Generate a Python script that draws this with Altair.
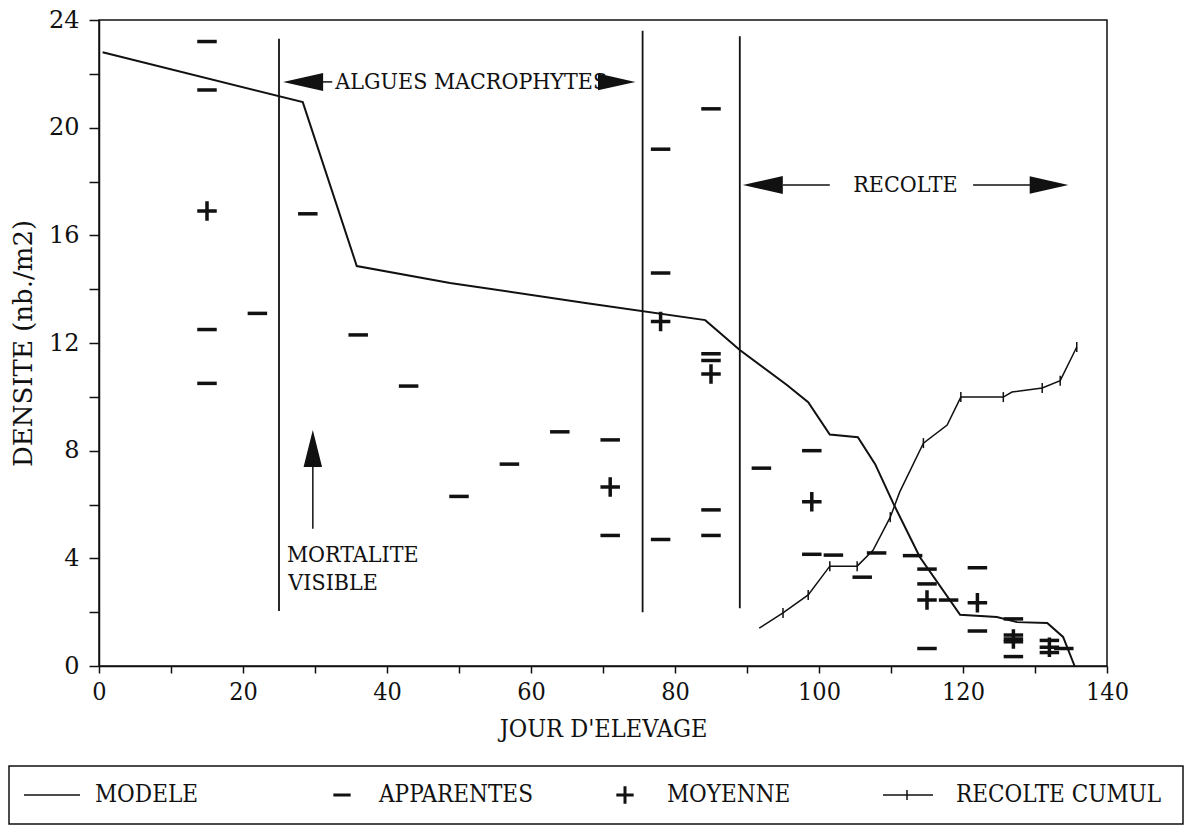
import altair as alt
import pandas as pd

# ---- model density curve (nb./m2 vs rearing day) ----
model_day = [0.5, 28.3, 35.8, 48.75, 67.8, 84.2, 89.0, 95.5, 98.5, 101.5, 105.4,
             107.8, 110.3, 114.0, 119.6, 124.7, 127.5, 131.7, 133.9, 135.5]
model_density = [22.8, 20.95, 14.86, 14.23, 13.48, 12.85, 11.74, 10.45, 9.8, 8.6, 8.5,
                 7.5, 6.05, 4.05, 1.9, 1.82, 1.63, 1.6, 1.08, 0.0]

# ---- apparent densities (individual counts) ----
app_day = [15, 15, 15, 15, 22, 29, 36, 43, 50, 57, 64, 71, 71,
           78, 78, 78, 85, 85, 85, 85, 85, 92, 99, 99, 102, 106, 108, 113,
           115, 115, 115, 118, 122, 122, 127, 127, 127, 127, 132, 132, 134]
app_density = [23.2, 21.4, 12.5, 10.5, 13.1, 16.8, 12.3, 10.4, 6.3, 7.5, 8.7, 8.4, 4.85,
               19.2, 14.6, 4.7, 20.7, 11.6, 11.35, 5.8, 4.85, 7.35, 8.0, 4.15, 4.12, 3.3, 4.2, 4.1,
               3.6, 3.05, 0.65, 2.45, 3.65, 1.3, 1.75, 1.15, 0.9, 0.35, 0.95, 0.5, 0.65]

# ---- mean density per sampling date ----
mean_day = [15, 71, 78, 85, 99, 115, 122, 127, 132]
mean_density = [16.9, 6.65, 12.8, 10.85, 6.1, 2.45, 2.35, 1.0, 0.7]

# ---- cumulated harvest ----
harvest_day = [91.7, 95.0, 98.5, 101.5, 105.3, 107.5, 109.9, 111.2, 114.5, 117.8,
               119.7, 125.6, 126.8, 131.0, 133.5, 135.8]
harvest_cum = [1.41, 1.97, 2.64, 3.71, 3.71, 4.3, 5.53, 6.46, 8.28, 8.95,
               9.99, 9.99, 10.18, 10.33, 10.6, 11.85]
harvest_marked = [False, True, True, True, True, False, True, False, True, False,
                  True, True, False, True, True, True]

# ---- period boundaries (data coordinates) ----
bound_day = [25.0, 75.5, 89.0]
bound_low = [2.04, 2.0, 2.15]
bound_high = [23.3, 23.6, 23.4]

NARROW = "DejaVu Serif Condensed, Liberation Serif, serif"
WIDE = "DejaVu Serif, serif"
INK = "#111111"

x_axis = alt.Axis(
    values=list(range(0, 141, 10)),
    labelExpr="datum.value % 20 == 0 ? datum.label : ''",
    title="JOUR D'ELEVAGE",
    titleFont=NARROW, titleFontSize=25, titleFontWeight="normal", titlePadding=12,
    labelFont=NARROW, labelFontSize=25, labelPadding=6, labelOverlap=False, labelFlush=False,
    tickSize=7, tickWidth=1.5, domainWidth=1.5, grid=False,
)
y_axis = alt.Axis(
    values=list(range(0, 25, 2)),
    labelExpr="datum.value % 4 == 0 ? datum.label : ''",
    title="DENSITE (nb./m2)",
    titleFont=WIDE, titleFontSize=26, titleFontWeight="normal", titlePadding=12,
    labelFont=WIDE, labelFontSize=24, labelPadding=10, labelOverlap=False, labelFlush=False,
    tickSize=10, tickWidth=1.5, domainWidth=1.5, grid=False,
)
XS = alt.Scale(domain=[0, 140], nice=False, zero=False)
YS = alt.Scale(domain=[0, 24], nice=False, zero=False)


def xq(field):
    return alt.X(field, type="quantitative", axis=x_axis, scale=XS)


def yq(field):
    return alt.Y(field, type="quantitative", axis=y_axis, scale=YS)


model_df = pd.DataFrame({"day": model_day, "density": model_density})
app_df = pd.DataFrame({"day": app_day, "density": app_density})
mean_df = pd.DataFrame({"day": mean_day, "density": mean_density})
harv_df = pd.DataFrame({"day": harvest_day, "density": harvest_cum, "marked": harvest_marked})
bound_df = pd.DataFrame({"day": bound_day, "low": bound_low, "high": bound_high})

DASH = "M-1,0L1,0"
PLUS = "M-1,0L1,0M0,-1L0,1"
VTICK = "M0,-1L0,1"
LEFT_HEAD = "M-1,0L1,-0.45L1,0.45Z"
RIGHT_HEAD = "M1,0L-1,-0.45L-1,0.45Z"
UP_HEAD = "M0,-1L0.5,1L-0.5,1Z"

model = alt.Chart(model_df).mark_line(color=INK, strokeWidth=2).encode(
    x=xq("day"), y=yq("density")
)

harvest_line = alt.Chart(harv_df).mark_line(color=INK, strokeWidth=1.5).encode(
    x=xq("day"), y=yq("density")
)
harvest_ticks = alt.Chart(harv_df).transform_filter("datum.marked").mark_point(
    shape=VTICK, size=100, stroke=INK, strokeWidth=1.5, filled=False, opacity=1
).encode(x=xq("day"), y=yq("density"))

apparent = alt.Chart(app_df).mark_point(
    shape=DASH, size=380, stroke=INK, strokeWidth=3.5, filled=False, opacity=1
).encode(x=xq("day"), y=yq("density"))

mean = alt.Chart(mean_df).mark_point(
    shape=PLUS, size=380, stroke=INK, strokeWidth=3.5, filled=False, opacity=1
).encode(x=xq("day"), y=yq("density"))

bounds = alt.Chart(bound_df).mark_rule(color=INK, strokeWidth=1.8).encode(
    x=xq("day"), y=yq("low"), y2="high"
)

# arrow shafts
shaft_df = pd.DataFrame({
    "x1": [95.0, 121.4, 29.7, 31.1],
    "x2": [101.5, 129.3, 29.7, 32.4],
    "y1": [17.87, 17.87, 5.1, 21.7],
    "y2": [17.87, 17.87, 7.4, 21.7],
})
shafts = alt.Chart(shaft_df).mark_rule(color=INK, strokeWidth=1.5).encode(
    x=xq("x1"), x2="x2", y=yq("y1"), y2="y2"
)

head_df = pd.DataFrame({
    "day": [28.35, 71.9, 92.2, 131.95, 29.7],
    "density": [21.7, 21.7, 17.87, 17.87, 8.08],
    "shape": [LEFT_HEAD, RIGHT_HEAD, LEFT_HEAD, RIGHT_HEAD, UP_HEAD],
    "size": [1600, 1400, 1600, 1500, 1369],
})
heads = alt.Chart(head_df).mark_point(filled=True, color=INK, opacity=1).encode(
    x=xq("day"), y=yq("density"),
    shape=alt.Shape("shape:N", scale=None),
    size=alt.Size("size:Q", scale=None),
)

label_df = pd.DataFrame({
    "day": [51.7, 112.0],
    "density": [21.7, 17.87],
    "text": ["ALGUES MACROPHYTES", "RECOLTE"],
})
labels = alt.Chart(label_df).mark_text(
    font=NARROW, fontSize=23, color=INK, align="center", baseline="middle"
).encode(x=xq("day"), y=yq("density"), text="text:N")

note_df = pd.DataFrame({
    "day": [26.1, 26.3],
    "density": [4.12, 3.08],
    "text": ["MORTALITE", "VISIBLE"],
})
notes = alt.Chart(note_df).mark_text(
    font=NARROW, fontSize=23, color=INK, align="left", baseline="middle"
).encode(x=xq("day"), y=yq("density"), text="text:N")

# ---- legend box below the plot (pixel offsets from the plot origin) ----
one = pd.DataFrame({"k": [0]})
LEG_Y = 775
legend_box = alt.Chart(one).mark_rect(fill="white", stroke=INK, strokeWidth=1.5).encode(
    x=alt.value(-90), x2=alt.value(1084), y=alt.value(746), y2=alt.value(804)
)
leg_model = alt.Chart(one).mark_rule(color=INK, strokeWidth=1.5).encode(
    x=alt.value(-75), x2=alt.value(-19), y=alt.value(LEG_Y)
)
leg_harv = alt.Chart(one).mark_rule(color=INK, strokeWidth=1.5).encode(
    x=alt.value(784), x2=alt.value(834), y=alt.value(LEG_Y)
)
leg_harv_tick = alt.Chart(one).mark_point(
    shape=VTICK, size=100, stroke=INK, strokeWidth=1.5, filled=False, opacity=1
).encode(x=alt.value(808), y=alt.value(LEG_Y))
leg_dash = alt.Chart(one).mark_point(
    shape=DASH, size=300, stroke=INK, strokeWidth=3, filled=False, opacity=1
).encode(x=alt.value(243), y=alt.value(LEG_Y))
leg_plus = alt.Chart(one).mark_point(
    shape=PLUS, size=300, stroke=INK, strokeWidth=3, filled=False, opacity=1
).encode(x=alt.value(526), y=alt.value(LEG_Y))


def leg_text(txt, px):
    return alt.Chart(one).mark_text(
        text=txt, font=NARROW, fontSize=24, color=INK, align="left", baseline="middle"
    ).encode(x=alt.value(px), y=alt.value(LEG_Y))


legend = [
    legend_box, leg_model, leg_harv, leg_harv_tick, leg_dash, leg_plus,
    leg_text("MODELE", -4), leg_text("APPARENTES", 280),
    leg_text("MOYENNE", 568), leg_text("RECOLTE CUMUL", 857),
]

chart = alt.layer(
    model, bounds, shafts, heads, labels, notes,
    harvest_line, harvest_ticks, apparent, mean, *legend
).properties(
    width=1008, height=646,
    autosize=alt.AutoSizeParams(type="none"),
    padding={"left": 99, "top": 20, "right": 84, "bottom": 161},
    background="white",
).configure_view(
    stroke=INK, strokeWidth=1.5
).configure_axis(
    domainColor=INK, tickColor=INK, labelColor=INK, titleColor=INK
)

chart.save("out.html", embed_options={"renderer": "svg", "actions": False})
